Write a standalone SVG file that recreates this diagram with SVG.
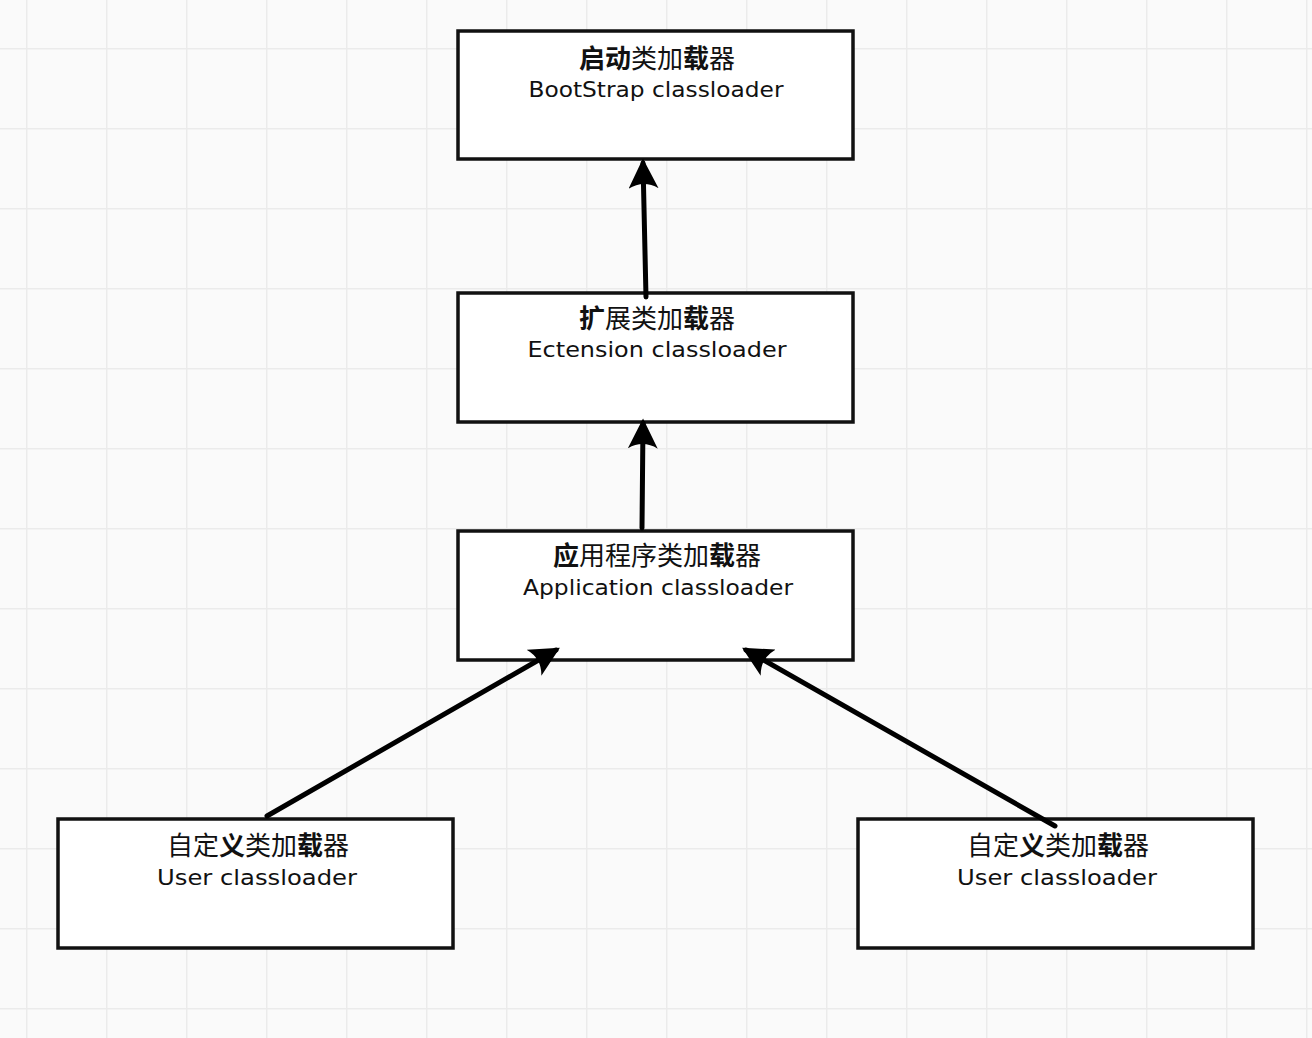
<svg xmlns="http://www.w3.org/2000/svg" width="1312" height="1038" viewBox="0 0 1312 1038">
<defs>
<pattern id="grid" x="26" y="48" width="80" height="80" patternUnits="userSpaceOnUse">
<path d="M0 0 H80 M0 0 V80" stroke="#ebebeb" stroke-width="3" fill="none"/>
</pattern>
<marker id="arr" viewBox="0 0 20 20" refX="17" refY="10" markerWidth="6" markerHeight="6" orient="auto" markerUnits="strokeWidth">
<path d="M20 10 L0 0 Q6 10 0 20 Z" fill="#000"/>
</marker>
</defs>
<style>
.box{fill:#fff;stroke:#111;stroke-width:3.5}
.zh{font-family:"Noto Sans CJK SC","Noto Sans",sans-serif;font-size:26px;fill:#111;text-anchor:middle}
.b{font-weight:bold}
.en{font-family:"DejaVu Sans","Noto Sans",sans-serif;font-size:21px;fill:#111;text-anchor:middle}
.con{stroke:#000;stroke-width:5;fill:none;stroke-linecap:round}
</style>
<rect width="1312" height="1038" fill="#fafafa"/>
<rect width="1312" height="1038" fill="url(#grid)"/>
<g id="node-bootstrap">
<rect class="box" x="458" y="31" width="395" height="128"/>
<text class="zh" x="657" y="68"><tspan class="b">启动</tspan>类加<tspan class="b">载</tspan>器</text>
<text class="en" x="656" y="97" textLength="255" lengthAdjust="spacingAndGlyphs">BootStrap classloader</text>
</g>
<g id="node-extension">
<rect class="box" x="458" y="293" width="395" height="129"/>
<text class="zh" x="657" y="328"><tspan class="b">扩</tspan>展类加<tspan class="b">载</tspan>器</text>
<text class="en" x="657" y="357" textLength="259" lengthAdjust="spacingAndGlyphs">Ectension classloader</text>
</g>
<g id="node-application">
<rect class="box" x="458" y="531" width="395" height="129"/>
<text class="zh" x="657" y="565"><tspan class="b">应</tspan>用程序类加<tspan class="b">载</tspan>器</text>
<text class="en" x="658" y="595" textLength="270" lengthAdjust="spacingAndGlyphs">Application classloader</text>
</g>
<g id="node-user1">
<rect class="box" x="58" y="819" width="395" height="129"/>
<text class="zh" x="258" y="855">自定<tspan class="b">义</tspan>类加<tspan class="b">载</tspan>器</text>
<text class="en" x="257" y="885" textLength="200" lengthAdjust="spacingAndGlyphs">User classloader</text>
</g>
<g id="node-user2">
<rect class="box" x="858" y="819" width="395" height="129"/>
<text class="zh" x="1058" y="855">自定<tspan class="b">义</tspan>类加<tspan class="b">载</tspan>器</text>
<text class="en" x="1057" y="885" textLength="200" lengthAdjust="spacingAndGlyphs">User classloader</text>
</g>
<g id="connectors">
<line class="con" x1="646" y1="297" x2="643" y2="163" marker-end="url(#arr)"/>
<line class="con" x1="642" y1="528" x2="643" y2="423" marker-end="url(#arr)"/>
<line class="con" x1="267" y1="816" x2="556" y2="650" marker-end="url(#arr)"/>
<line class="con" x1="1055" y1="826" x2="746" y2="650" marker-end="url(#arr)"/>
</g>
</svg>
